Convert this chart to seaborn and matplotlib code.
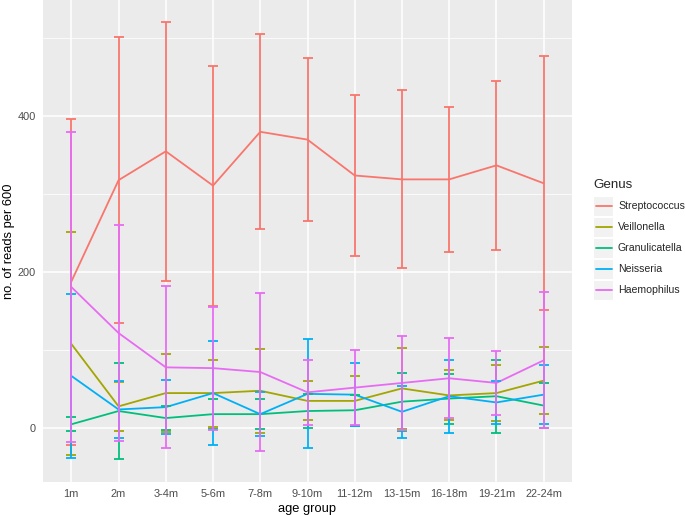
import numpy as np
import pandas as pd
import matplotlib
matplotlib.use("Agg")
import matplotlib.pyplot as plt
from matplotlib.patches import Rectangle
from matplotlib.lines import Line2D
from matplotlib.ticker import FixedLocator
import seaborn as sns

ages = ['1m', '2m', '3-4m', '5-6m', '7-8m', '9-10m', '11-12m',
        '13-15m', '16-18m', '19-21m', '22-24m']
genus = ['Streptococcus', 'Veillonella', 'Granulicatella', 'Neisseria', 'Haemophilus']
colors = ['#F8766D', '#A3A500', '#00BF7D', '#00B0F6', '#E76BF3']

strep_mean = [188, 318, 355, 311, 380, 370, 324, 319, 319, 337, 314]
strep_sd = [209, 183, 166, 154, 125, 104, 103, 114, 93, 108, 163]
veil_mean = [108, 28, 45, 45, 48, 35, 35, 51, 42, 45, 61]
veil_sd = [143, 31, 50, 43, 54, 25, 32, 52, 32, 36, 43]
gran_mean = [5, 22, 13, 18, 18, 22, 23, 34, 38, 41, 29]
gran_sd = [9, 61, 15, 19, 19, 22, 20, 37, 32, 47, 29]
neis_mean = [67, 24, 27, 45, 18, 44, 43, 21, 41, 33, 43]
neis_sd = [105, 37, 35, 67, 28, 70, 40, 33, 47, 27, 38]
haem_mean = [181, 122, 78, 77, 72, 46, 52, 58, 64, 58, 87]
haem_sd = [199, 139, 104, 79, 101, 42, 48, 60, 51, 41, 87]


def main():
    means = [strep_mean, veil_mean, gran_mean, neis_mean, haem_mean]
    sds = [strep_sd, veil_sd, gran_sd, neis_sd, haem_sd]
    rows = []
    for g, m, s in zip(genus, means, sds):
        for i, a in enumerate(ages):
            rows.append({'age': a, 'pos': i, 'Genus': g, 'reads': m[i], 'sd': s[i]})
    df = pd.DataFrame(rows)

    sns.set_theme(style='darkgrid', rc={
        'axes.facecolor': '#EBEBEB',
        'grid.color': 'white',
    })
    plt.rcParams['font.family'] = ['Liberation Sans', 'DejaVu Sans']

    fig = plt.figure(figsize=(6.85, 5.15), dpi=100)
    W, H = 685, 515
    ax = fig.add_axes([43 / W, 1 - 482 / H, (572 - 43) / W, 482 / H])

    pal = dict(zip(genus, colors))
    sns.lineplot(data=df, x='pos', y='reads', hue='Genus', hue_order=genus,
                 palette=pal, sort=False, legend=False, lw=1.3, ax=ax)
    for g in genus:
        sub = df[df['Genus'] == g]
        ax.errorbar(sub['pos'], sub['reads'], yerr=sub['sd'], fmt='none',
                    ecolor=pal[g], elinewidth=1.3, capsize=3.6, capthick=1.3)

    ax.set_xlim(-0.6, len(ages) - 0.4)
    ax.set_ylim(-69, 549)
    ax.set_xticks(range(len(ages)))
    ax.set_xticklabels(ages)
    ax.set_yticks([0, 200, 400])
    ax.yaxis.set_minor_locator(FixedLocator([100, 300, 500]))
    ax.grid(which='major', color='white', lw=1.1)
    ax.grid(which='minor', axis='y', color='white', lw=0.55)
    ax.tick_params(which='major', length=2.5, width=0.8, color='#333333',
                   labelsize=7.9, labelcolor='#4D4D4D', pad=2.5)
    ax.tick_params(which='minor', length=0)
    for sp in ax.spines.values():
        sp.set_visible(False)
    ax.set_xlabel('age group', fontsize=9.3, color='black', labelpad=3)
    ax.set_ylabel('no. of reads per 600', fontsize=9.3, color='black', labelpad=2)

    # legend drawn by hand, ggplot style
    fig.text(593 / W, 1 - 185 / H, 'Genus', fontsize=9.6, va='center', ha='left')
    top = 196.7
    pitch = 21
    for i, g in enumerate(genus):
        y0 = top + i * pitch
        fig.patches.append(Rectangle((594 / W, 1 - (y0 + 19) / H), 19 / W, 19 / H,
                                     transform=fig.transFigure, facecolor='#F2F2F2',
                                     edgecolor='none'))
        yc = 1 - (y0 + 9.5) / H
        fig.lines.append(Line2D([595.5 / W, 611.5 / W], [yc, yc], transform=fig.transFigure,
                                color=pal[g], lw=1.3))
        fig.text(618 / W, yc, g, fontsize=7.6, va='center', ha='left')

    fig.savefig('out.png', dpi=100)


if __name__ == "__main__":
    main()
